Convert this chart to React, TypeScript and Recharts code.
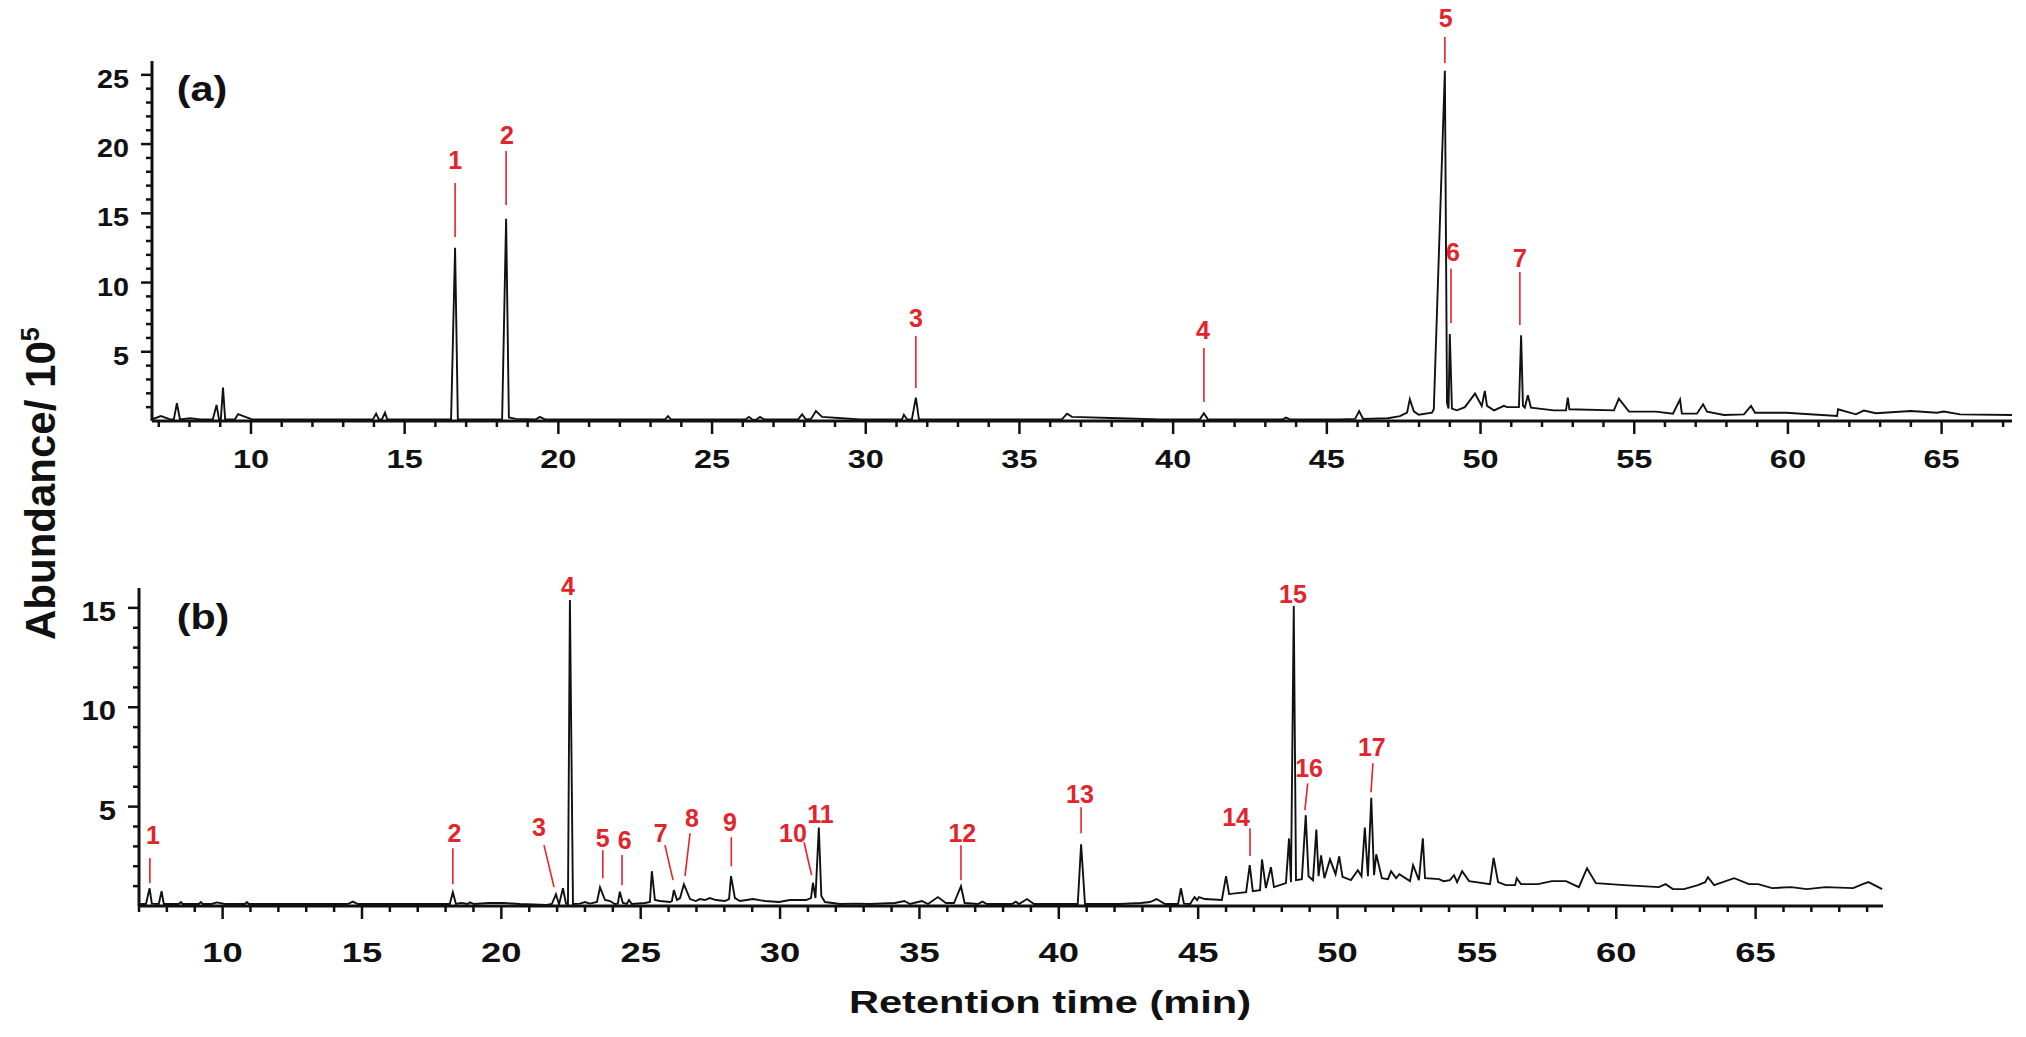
import React from 'react';
import { LineChart, Line, XAxis, YAxis, ReferenceLine, ReferenceDot } from 'recharts';

// ---------- Panel (a) chromatogram ----------
const timeA = [
  6.78, 7.07, 7.37, 7.49, 7.59, 7.69, 8.02, 8.34, 8.76, 8.88, 8.96, 9.02, 9.09, 9.16, 9.48, 9.58, 10.03,
  13.97, 14.07, 14.16, 14.26, 14.36, 14.43, 16.51, 16.64, 16.73, 18.17, 18.3, 18.39, 18.62, 19.27, 19.4, 19.56,
  23.47, 23.57, 23.66, 26.1, 26.2, 26.33, 26.46, 26.56, 26.69, 27.8, 27.93, 28.05, 28.22, 28.38, 28.58, 29.23,
  29.81, 31.18, 31.24, 31.34, 31.5, 31.63, 31.73, 36.38, 36.55, 36.71, 38.27, 39.57, 40.87, 41.0, 41.13,
  43.57, 43.67, 43.8, 45.43, 45.92, 46.05, 46.18, 46.99, 47.38, 47.61, 47.7, 47.83, 47.99, 48.42, 48.48,
  48.84, 48.91, 48.96, 49.0, 49.07, 49.23, 49.49, 49.82, 50.04, 50.14, 50.21, 50.44, 50.76, 50.86, 51.25,
  51.32, 51.38, 51.44, 51.54, 51.64, 52.39, 52.78, 52.84, 52.89, 54.34, 54.5, 54.83, 55.71, 56.26, 56.49,
  56.55, 57.04, 57.24, 57.37, 57.92, 58.57, 58.8, 58.93, 59.94, 61.6, 61.63, 62.21, 62.47, 62.86, 64.0,
  64.85, 65.07, 65.6, 67.29,
];
const abundA = [
  0.12, 0.36, 0.12, 0.12, 1.28, 0.12, 0.2, 0.12, 0.12, 1.16, 0.12, 0.12, 2.41, 0.12, 0.12, 0.5, 0.12,
  0.12, 0.53, 0.12, 0.12, 0.6, 0.12, 0.12, 12.51, 0.12, 0.12, 14.61, 0.25, 0.15, 0.12, 0.3, 0.12,
  0.12, 0.35, 0.12, 0.12, 0.3, 0.08, 0.12, 0.3, 0.12, 0.12, 0.48, 0.12, 0.15, 0.72, 0.3, 0.2,
  0.12, 0.12, 0.45, 0.12, 0.12, 1.69, 0.12, 0.12, 0.53, 0.3, 0.2, 0.12, 0.12, 0.56, 0.12,
  0.12, 0.25, 0.12, 0.12, 0.15, 0.72, 0.15, 0.2, 0.35, 0.6, 1.57, 0.7, 0.45, 0.6, 0.85,
  25.3, 1.3, 0.9, 6.28, 0.9, 0.77, 1.0, 1.98, 1.09, 2.17, 1.09, 0.77, 1.1, 1.0, 1.0,
  6.2, 1.1, 0.97, 1.86, 0.97, 0.77, 0.77, 1.69, 0.85, 0.77, 1.62, 0.68, 0.68, 0.53, 1.55,
  0.53, 0.53, 1.21, 0.68, 0.43, 0.48, 1.09, 0.6, 0.6, 0.36, 0.85, 0.48, 0.75, 0.56, 0.72,
  0.6, 0.68, 0.48, 0.43,
];

// ---------- Panel (b) chromatogram ----------
const timeB = [
  7.0, 7.25, 7.38, 7.46, 7.71, 7.81, 7.89, 8.43, 8.5, 8.57, 9.15, 9.22, 9.29, 9.61, 9.79, 10.08, 10.8, 10.87,
  10.94, 14.49, 14.67, 14.85, 18.15, 18.26, 18.37, 18.55, 18.8, 18.87, 19.02, 19.55, 20.09, 20.67, 21.63,
  21.81, 21.96, 22.07, 22.21, 22.32, 22.39, 22.46, 22.57, 22.82, 23.0, 23.18, 23.43, 23.54, 23.72, 23.9,
  24.07, 24.18, 24.25, 24.36, 24.5, 24.58, 24.68, 25.15, 25.33, 25.4, 25.51, 25.69, 26.05, 26.12, 26.19,
  26.3, 26.41, 26.55, 26.77, 26.98, 27.12, 27.3, 27.48, 27.7, 28.02, 28.17, 28.24, 28.38, 28.56, 29.03,
  29.46, 29.96, 30.35, 30.93, 31.11, 31.18, 31.27, 31.39, 31.48, 31.61, 32.15, 32.69, 33.22, 34.12, 34.46,
  34.66, 35.09, 35.31, 35.66, 35.95, 36.24, 36.49, 36.62, 37.1, 37.26, 37.42, 38.32, 38.46, 38.57, 38.86,
  39.11, 40.68, 40.8, 40.94, 42.19, 42.95, 43.27, 43.51, 43.81, 44.28, 44.38, 44.49, 44.71, 44.87, 44.96,
  45.03, 45.24, 45.85, 46.0, 46.11, 46.72, 46.85, 46.96, 47.22, 47.29, 47.43, 47.61, 47.72, 48.15, 48.26,
  48.33, 48.43, 48.51, 48.72, 48.86, 48.96, 49.12, 49.24, 49.32, 49.41, 49.53, 49.73, 49.93, 50.06, 50.18,
  50.48, 50.73, 50.86, 50.98, 51.09, 51.21, 51.31, 51.39, 51.59, 51.81, 51.92, 52.1, 52.22, 52.6, 52.71,
  52.92, 53.06, 53.14, 53.64, 53.8, 54.03, 54.18, 54.29, 54.47, 54.72, 55.47, 55.6, 55.76, 56.04, 56.37,
  56.43, 56.58, 57.19, 57.69, 58.2, 58.66, 58.95, 59.27, 60.28, 61.53, 61.77, 62.03, 62.43, 62.93, 63.19,
  63.29, 63.51, 64.23, 64.76, 65.09, 65.59, 66.27, 66.84, 67.51, 68.5, 68.84, 69.05, 69.54,
];
const abundB = [
  0.1, 0.1, 0.89, 0.12, 0.1, 0.75, 0.1, 0.1, 0.2, 0.1, 0.1, 0.2, 0.1, 0.1, 0.18, 0.1, 0.1, 0.2,
  0.1, 0.1, 0.22, 0.1, 0.1, 0.69, 0.1, 0.15, 0.1, 0.18, 0.1, 0.15, 0.15, 0.1, 0.05,
  0.1, 0.59, 0.08, 0.89, 0.12, 0.1, 15.4, 0.1, 0.12, 0.2, 0.12, 0.2, 0.94, 0.3, 0.25,
  0.1, 0.12, 0.72, 0.15, 0.1, 0.3, 0.1, 0.15, 0.2, 1.75, 0.3, 0.25, 0.2, 0.25, 0.8,
  0.3, 0.4, 1.09, 0.35, 0.25, 0.35, 0.3, 0.4, 0.3, 0.25, 0.35, 1.5, 0.4, 0.25, 0.35,
  0.25, 0.2, 0.3, 0.3, 0.4, 1.17, 0.4, 3.95, 0.5, 0.2, 0.1, 0.12, 0.1, 0.15, 0.25,
  0.1, 0.25, 0.1, 0.45, 0.15, 0.15, 1.0, 0.15, 0.1, 0.22, 0.1, 0.1, 0.22, 0.1, 0.35,
  0.1, 0.1, 3.11, 0.1, 0.1, 0.15, 0.2, 0.35, 0.1, 0.1, 0.89, 0.12, 0.1, 0.45, 0.3,
  0.45, 0.35, 0.3, 1.5, 0.6, 0.7, 2.06, 0.75, 0.8, 2.34, 0.9, 1.95, 0.95, 1.15, 3.4,
  1.2, 15.1, 1.3, 1.35, 4.57, 1.5, 1.3, 3.85, 1.5, 2.55, 1.4, 2.35, 1.6, 2.5, 1.47,
  1.3, 1.8, 1.5, 3.95, 1.5, 5.45, 1.55, 2.6, 1.4, 1.35, 1.75, 1.4, 1.6, 1.25, 2.05,
  1.3, 3.4, 1.4, 1.35, 1.25, 1.3, 1.55, 1.2, 1.75, 1.25, 1.1, 2.42, 1.2, 1.05, 1.05,
  1.4, 1.1, 1.1, 1.25, 1.25, 0.95, 1.9, 1.15, 1.05, 0.95, 1.1, 0.85, 0.85, 1.05, 1.2,
  1.45, 1.05, 1.4, 1.1, 1.1, 0.9, 0.95, 0.85, 0.95, 0.9, 1.1, 1.2, 0.85,
];

// ---------- Axes ----------
const xDomainA = [6.78, 67.29];
const yDomainA = [0, 26];
const xDomainB = [7.0, 69.57];
const yDomainB = [0, 16];
const xTicksA = [7, 8, 9, 10, 11, 12, 13, 14, 15, 16, 17, 18, 19, 20, 21, 22, 23, 24, 25, 26, 27, 28, 29, 30, 31, 32, 33, 34, 35, 36, 37, 38, 39, 40, 41, 42, 43, 44, 45, 46, 47, 48, 49, 50, 51, 52, 53, 54, 55, 56, 57, 58, 59, 60, 61, 62, 63, 64, 65, 66, 67];
const xTicksB = [7, 8, 9, 10, 11, 12, 13, 14, 15, 16, 17, 18, 19, 20, 21, 22, 23, 24, 25, 26, 27, 28, 29, 30, 31, 32, 33, 34, 35, 36, 37, 38, 39, 40, 41, 42, 43, 44, 45, 46, 47, 48, 49, 50, 51, 52, 53, 54, 55, 56, 57, 58, 59, 60, 61, 62, 63, 64, 65, 66, 67, 68, 69];
const yTicksA = [1, 2, 3, 4, 5, 6, 7, 8, 9, 10, 11, 12, 13, 14, 15, 16, 17, 18, 19, 20, 21, 22, 23, 24, 25];
const yTicksB = [1, 2, 3, 4, 5, 6, 7, 8, 9, 10, 11, 12, 13, 14, 15];

// ---------- Peak annotations ----------
const peakLabelsA = ['1', '2', '3', '4', '5', '6', '7'];
const peakLabelTimeA = [16.64, 18.33, 31.63, 40.97, 48.87, 49.1, 51.28];
const peakLabelValueA = [18.85, 20.66, 7.44, 6.57, 29.1, 12.2, 11.77];
const leaderLinesA = [
  [16.64, 17.19, 16.64, 13.29],
  [18.3, 19.5, 18.3, 15.6],
  [31.63, 6.14, 31.63, 2.38],
  [41.0, 5.27, 41.0, 1.37],
  [48.84, 27.73, 48.84, 25.85],
  [49.04, 11.0, 49.04, 7.08],
  [51.28, 10.76, 51.28, 6.93],
];

const peakLabelsB = ['1', '2', '3', '4', '5', '6', '7', '8', '9', '10', '11', '12', '13', '14', '15', '16', '17'];
const peakLabelTimeB = [7.5, 18.32, 21.35, 22.39, 23.64, 24.43, 25.72, 26.84, 28.2, 30.46, 31.45, 36.54, 40.76, 46.36, 48.4, 48.98, 51.23];
const peakLabelValueB = [3.56, 3.66, 3.96, 16.1, 3.41, 3.31, 3.66, 4.42, 4.21, 3.66, 4.62, 3.66, 5.62, 4.47, 15.7, 6.92, 7.98];
const leaderLinesB = [
  [7.39, 2.41, 7.39, 1.15],
  [18.26, 2.91, 18.26, 1.1],
  [21.53, 3.06, 21.89, 0.95],
  [23.64, 2.81, 23.64, 1.4],
  [24.33, 2.56, 24.33, 1.05],
  [25.87, 3.06, 26.16, 1.3],
  [26.77, 3.66, 26.59, 1.5],
  [28.25, 3.46, 28.25, 2.0],
  [30.86, 3.21, 31.13, 1.56],
  [36.49, 3.06, 36.49, 1.3],
  [40.8, 4.97, 40.8, 3.66],
  [46.86, 3.91, 46.86, 2.51],
  [48.93, 6.17, 48.83, 4.82],
  [51.27, 7.18, 51.2, 5.72],
];

const dataA = timeA.map((t, i) => ({ t, v: abundA[i] }));
const dataB = timeB.map((t, i) => ({ t, v: abundB[i] }));

const FONT = '"Liberation Sans", Arial, Helvetica, sans-serif';
const INK = '#111111';
const RED = '#e3242b';

function makeXTick(labelDy: number, fontSize: number) {
  return (props: any) => {
    const { x, y, payload } = props;
    const val = payload.value;
    const major = val % 5 === 0;
    return (
      <g>
        <line x1={x} y1={y} x2={x} y2={y + (major ? 13 : 6)} stroke={INK} strokeWidth={2.5} />
        {major ? (
          <text
            transform={`translate(${x},${y + labelDy}) scale(1.3,1)`}
            textAnchor="middle"
            fontFamily={FONT}
            fontWeight="bold"
            fontSize={fontSize}
            fill={INK}
          >
            {val}
          </text>
        ) : null}
      </g>
    );
  };
}

function makeYTick(labelDy: number, fontSize: number) {
  return (props: any) => {
    const { x, y, payload } = props;
    const val = payload.value;
    const major = val % 5 === 0;
    return (
      <g>
        <line x1={x} y1={y} x2={x - (major ? 11 : 6)} y2={y} stroke={INK} strokeWidth={2.5} />
        {major ? (
          <text
            transform={`translate(${x - 23},${y + labelDy}) scale(1.15,1)`}
            textAnchor="end"
            fontFamily={FONT}
            fontWeight="bold"
            fontSize={fontSize}
            fill={INK}
          >
            {val}
          </text>
        ) : null}
      </g>
    );
  };
}

const redLabel = (text: string) => (p: any) => (
  <text x={p.cx} y={p.cy + 9} textAnchor="middle" fontFamily={FONT} fontWeight="bold" fontSize={25} fill={RED}>
    {text}
  </text>
);

function Annotations(labels: string[], times: number[], values: number[], lines: number[][], key: string) {
  const out: any[] = [];
  lines.forEach((l, i) => {
    out.push(
      <ReferenceLine
        key={`${key}-l${i}`}
        segment={[{ x: l[0], y: l[1] }, { x: l[2], y: l[3] }]}
        stroke={RED}
        strokeWidth={1.6}
        ifOverflow="visible"
      />
    );
  });
  labels.forEach((lab, i) => {
    out.push(
      <ReferenceDot
        key={`${key}-d${i}`}
        x={times[i]}
        y={values[i]}
        r={0}
        ifOverflow="visible"
        shape={redLabel(lab)}
      />
    );
  });
  return out;
}

export default function App() {
  return (
    <div style={{ position: 'absolute', left: 0, top: 0, width: 2026, height: 1037, background: '#ffffff' }}>
      <div style={{ position: 'absolute', left: 0, top: 0 }}>
        <LineChart width={2026} height={500} data={dataA} margin={{ top: 61, right: 14, bottom: 19, left: 0 }}>
          <XAxis
            dataKey="t"
            type="number"
            domain={xDomainA}
            ticks={xTicksA}
            interval={0}
            allowDataOverflow
            tickLine={false}
            tickSize={0}
            tickMargin={0}
            height={60}
            axisLine={{ stroke: INK, strokeWidth: 3 }}
            tick={makeXTick(47, 25)}
          />
          <YAxis
            type="number"
            domain={yDomainA}
            ticks={yTicksA}
            interval={0}
            allowDataOverflow
            tickLine={false}
            tickSize={0}
            tickMargin={0}
            width={152}
            axisLine={{ stroke: INK, strokeWidth: 3 }}
            tick={makeYTick(13, 25)}
          />
          <Line type="linear" dataKey="v" stroke={INK} strokeWidth={1.9} dot={false} activeDot={false} isAnimationActive={false} />
          {Annotations(peakLabelsA, peakLabelTimeA, peakLabelValueA, leaderLinesA, 'a')}
        </LineChart>
      </div>
      <div style={{ position: 'absolute', left: 0, top: 520 }}>
        <LineChart width={2026} height={517} data={dataB} margin={{ top: 68, right: 143, bottom: 71, left: 0 }}>
          <XAxis
            dataKey="t"
            type="number"
            domain={xDomainB}
            ticks={xTicksB}
            interval={0}
            allowDataOverflow
            tickLine={false}
            tickSize={0}
            tickMargin={0}
            height={60}
            axisLine={{ stroke: INK, strokeWidth: 3 }}
            tick={makeXTick(56, 28)}
          />
          <YAxis
            type="number"
            domain={yDomainB}
            ticks={yTicksB}
            interval={0}
            allowDataOverflow
            tickLine={false}
            tickSize={0}
            tickMargin={0}
            width={139}
            axisLine={{ stroke: INK, strokeWidth: 3 }}
            tick={makeYTick(13, 27)}
          />
          <Line type="linear" dataKey="v" stroke={INK} strokeWidth={1.9} dot={false} activeDot={false} isAnimationActive={false} />
          {Annotations(peakLabelsB, peakLabelTimeB, peakLabelValueB, leaderLinesB, 'b')}
        </LineChart>
      </div>
      <svg width={2026} height={1037} style={{ position: 'absolute', left: 0, top: 0, pointerEvents: 'none' }}>
        <text transform="translate(55,640) rotate(-90)" fontFamily={FONT} fontWeight="bold" fontSize={42} fill={INK}>
          Abundance/ 10
          <tspan dy={-16} fontSize={25}>5</tspan>
        </text>
        <text transform="translate(1050,1013) scale(1.3,1)" textAnchor="middle" fontFamily={FONT} fontWeight="bold" fontSize={32} fill={INK}>
          Retention time (min)
        </text>
        <text transform="translate(202,101) scale(1.18,1)" textAnchor="middle" fontFamily={FONT} fontWeight="bold" fontSize={35} fill={INK}>
          (a)
        </text>
        <text transform="translate(203,629) scale(1.18,1)" textAnchor="middle" fontFamily={FONT} fontWeight="bold" fontSize={35} fill={INK}>
          (b)
        </text>
      </svg>
    </div>
  );
}
